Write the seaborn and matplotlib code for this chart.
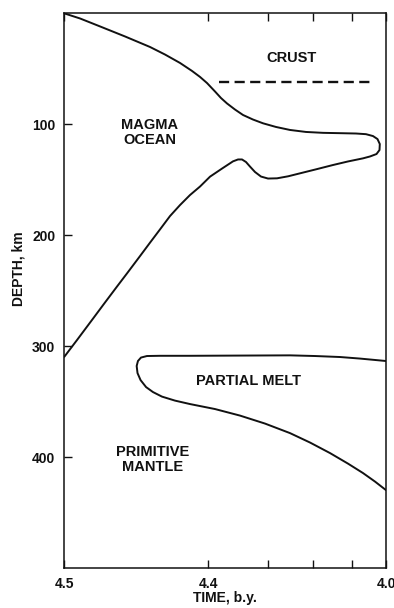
import numpy as np
import pandas as pd
import matplotlib
matplotlib.use('Agg')
import matplotlib.pyplot as plt
import seaborn as sns

# -----------------------------
# Data (time in b.y., depth in km)
# -----------------------------
# magma ocean boundary: top surface -> nose -> base, one continuous line
ocean_time = [4.5, 4.4988, 4.4938, 4.4822, 4.4645, 4.4510, 4.4353, 4.4212,
              4.4110, 4.4016, 4.3903, 4.3814, 4.3721, 4.3592, 4.3457, 4.3280,
              4.3092, 4.2835, 4.2539, 4.2178, 4.1767, 4.1327, 4.0889, 4.0603,
              4.0396, 4.0261, 4.0191, 4.0200, 4.0291, 4.0485, 4.0690, 4.1112,
              4.1512, 4.1939, 4.2316, 4.2582, 4.2814, 4.2995, 4.3131, 4.3243,
              4.3334, 4.3405, 4.3474, 4.3542, 4.3625, 4.3798, 4.3974, 4.4110,
              4.4237, 4.4353, 4.4460, 4.4557, 4.4645, 4.4723, 4.4810, 4.4866,
              4.4924, 4.4960, 4.4992, 4.5]
ocean_depth = [0, 4.6, 11.8, 20.8, 30.3, 37.1, 44.7, 51.9,
               57.3, 62.8, 70.4, 76.3, 81.2, 86.7, 91.6, 95.7,
               99.1, 102.4, 105.1, 106.9, 107.7, 108.0, 108.3, 108.9,
               110.6, 113.3, 117.8, 123.2, 126.8, 129.0, 130.7, 133.5,
               136.7, 140.6, 144.2, 146.9, 148.7, 148.9, 147.1, 143.0,
               138.1, 134.0, 131.7, 131.7, 133.4, 139.9, 147.2, 156.1,
               163.8, 172.8, 182.7, 194.7, 206.7, 218.8, 234.4, 246.3,
               261.9, 275.1, 294.3, 309.6]

# partial melt zone: top edge -> nose -> bottom edge
melt_time = [4.0, 4.0776, 4.1327, 4.1964, 4.2539, 4.3509, 4.4237, 4.4557,
             4.4670, 4.4716, 4.4738, 4.4747, 4.4741, 4.4719, 4.4677, 4.4620,
             4.4539, 4.4408, 4.4237, 4.3903, 4.3509, 4.3054, 4.2539, 4.2083,
             4.1589, 4.1112, 4.0690, 4.0336, 4.0]
melt_depth = [313.4, 311.2, 309.8, 308.9, 308.3, 308.5, 308.7, 308.7,
              308.9, 310.3, 313.4, 317.9, 324.3, 330.6, 336.9, 341.4,
              345.5, 349.1, 352.2, 356.7, 362.6, 369.8, 378.4, 386.9,
              396.4, 405.9, 414.4, 422.1, 429.8]

# crust base (dashed)
crust_time = [4.384, 4.040]
crust_depth = [61.5, 61.5]

# region labels
labels = ['MAGMA\nOCEAN', 'CRUST', 'PARTIAL MELT', 'PRIMITIVE\nMANTLE']
label_time = [4.4645, 4.2517, 4.3364, 4.4624]
label_depth = [107, 40.2, 331.4, 401.8]

xticks = [4.5, 4.4, 4.3, 4.2, 4.1, 4.0]
xticklabels = ['4.5', '4.4', '', '', '', '4.0']
yticks = [100, 200, 300, 400]

# -----------------------------
# Style
# -----------------------------
sns.set_theme(style='white')
plt.rcParams['font.family'] = ['Liberation Sans', 'DejaVu Sans']
plt.rcParams['font.weight'] = 'bold'
ink = '#111111'

fig = plt.figure(figsize=(3.94, 6.08), dpi=100)
ax = fig.add_axes([0.1632, 0.0658, 0.8165, 0.9122])

# time axis is a square-root scale measured back from 4.5 b.y.
ax.set_xscale('function', functions=(lambda t: -np.sqrt(np.clip(4.5 - t, 0, None)),
                                     lambda u: 4.5 - u ** 2))

df_ocean = pd.DataFrame({'time': ocean_time, 'depth': ocean_depth})
df_melt = pd.DataFrame({'time': melt_time, 'depth': melt_depth})
df_crust = pd.DataFrame({'time': crust_time, 'depth': crust_depth})

sns.lineplot(data=df_ocean, x='time', y='depth', sort=False, estimator=None,
             color=ink, linewidth=1.4, ax=ax)
sns.lineplot(data=df_melt, x='time', y='depth', sort=False, estimator=None,
             color=ink, linewidth=1.4, ax=ax)
sns.lineplot(data=df_crust, x='time', y='depth', sort=False, estimator=None,
             color=ink, linewidth=1.7, linestyle=(0, (4.3, 2.3)), ax=ax)

for txt, t, d in zip(labels, label_time, label_depth):
    ax.text(t, d, txt, ha='center', va='center', fontsize=10.5,
            fontweight='bold', color=ink, linespacing=1.1)

ax.set_xlim(4.5, 4.0)
ax.set_ylim(500, 0)
ax.set_xticks(xticks)
ax.set_xticklabels(xticklabels)
ax.set_yticks(yticks)
ax.tick_params(axis='x', direction='in', top=True, bottom=True, length=6,
               width=1, color=ink, labelsize=10, labelcolor=ink, pad=6.5)
ax.tick_params(axis='y', direction='in', left=True, right=False, length=5.5,
               width=1, color=ink, labelsize=10, labelcolor=ink, pad=6.5)

for s in ax.spines.values():
    s.set_visible(True)
    s.set_color(ink)
    s.set_linewidth(1.1)

ax.set_xlabel('TIME, b.y.', fontsize=10, fontweight='bold', color=ink)
ax.set_ylabel('DEPTH, km', fontsize=10, fontweight='bold', color=ink)
ax.xaxis.set_label_coords(0.5, -0.041)
ax.yaxis.set_label_coords(-0.122, 0.539)
ax.grid(False)

plt.savefig('out.png', dpi=100)
